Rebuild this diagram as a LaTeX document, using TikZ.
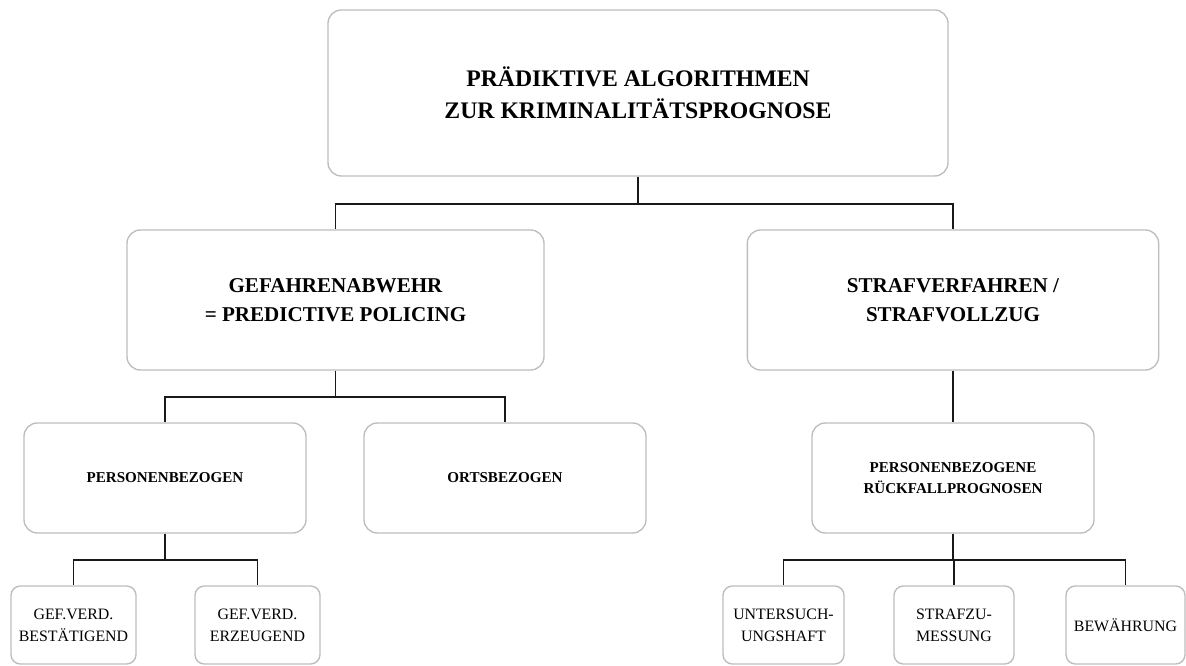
\documentclass[tikz,border=0pt]{standalone}
\usepackage{fontspec}
\setmainfont{Liberation Serif}
\usetikzlibrary{arrows.meta}
\definecolor{boxgray}{HTML}{BDBDBD}
\def\fork#1#2#3{
  % 1: parent node
  % 2: drop to the bar
  % 3: children
  \foreach \c in {#3}
    \draw[conn] (#1.south) -- ++(0,#2) -| (\c.north);
}

\begin{document}
\begin{tikzpicture}[x=0.75pt,y=-0.75pt,
    box/.style={draw=boxgray,line width=1pt,rounded corners=10pt,fill=white,
      align=center,inner sep=0pt},
    big/.style={box,font=\fontsize{15.8}{21.5}\selectfont\bfseries},
    mid/.style={box,font=\fontsize{11.3}{15.8}\selectfont\bfseries,
      minimum width=211.5pt,minimum height=82.5pt},
    leaf/.style={box,rounded corners=7pt,font=\fontsize{11.9}{16.5}\selectfont,
      minimum height=58.5pt},
    conn/.style={draw=black!90,line width=1.3pt}]
  \useasboundingbox (0,0) rectangle (1186,666);
  % level 1
  \node[big,font=\fontsize{17.8}{24}\selectfont\bfseries,
    minimum width=465pt,minimum height=124.5pt] (algo) at (638,93)
    {PRÄDIKTIVE ALGORITHMEN\\ZUR KRIMINALITÄTSPROGNOSE};
  % level 2
  \node[big,minimum width=312.75pt,minimum height=105pt] (gefahr) at (335.5,300)
    {GEFAHRENABWEHR\\= PREDICTIVE POLICING};
  \node[big,minimum width=308.5pt,minimum height=105pt] (straf) at (953,300)
    {STRAFVERFAHREN /\\STRAFVOLLZUG};
  % level 3
  \node[mid] (person) at (165,478) {PERSONENBEZOGEN};
  \node[mid] (orts) at (505,478) {ORTSBEZOGEN};
  \node[mid] (rueck) at (953,478) {PERSONENBEZOGENE\\RÜCKFALLPROGNOSEN};
  % level 4
  \node[leaf,minimum width=93.75pt] (bestaet) at (73.5,625) {GEF.VERD.\\BESTÄTIGEND};
  \node[leaf,minimum width=93.75pt] (erzeug) at (257.5,625) {GEF.VERD.\\ERZEUGEND};
  \node[leaf,minimum width=90.75pt] (unters) at (783.5,625) {UNTERSUCH-\\UNGSHAFT};
  \node[leaf,minimum width=90pt] (zumess) at (954,625) {STRAFZU-\\MESSUNG};
  \node[leaf,minimum width=89.25pt] (bewaehr) at (1125.5,625) {BEWÄHRUNG};
  % connectors
  \fork{algo}{27}{gefahr,straf}
  \fork{gefahr}{26}{person,orts}
  \fork{person}{26}{bestaet,erzeug}
  \fork{rueck}{26}{unters,zumess,bewaehr}
  \draw[conn] (straf) -- (rueck);
\end{tikzpicture}
\end{document}
